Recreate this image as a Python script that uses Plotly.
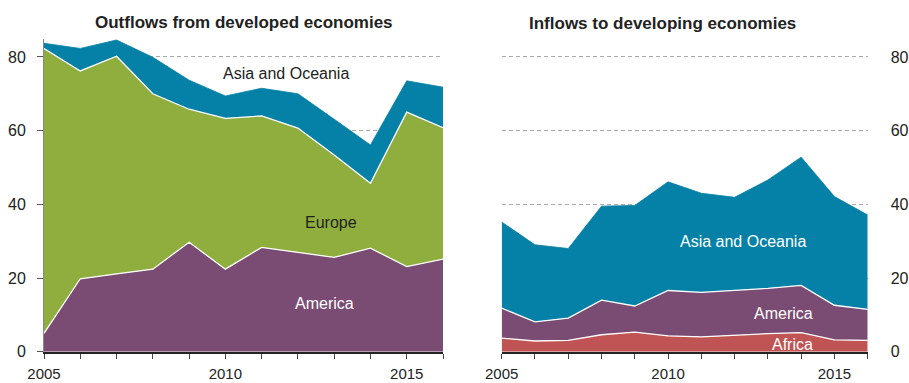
import plotly.graph_objects as go

# Years on the horizontal axis
years = list(range(2005, 2017))
x_tick_text = ["2005", "", "", "", "", "2010", "", "", "", "", "2015", ""]
y_tick_vals = [0, 20, 40, 60, 80]

# Outflows from developed economies, by destination (stacked)
out_america = [5.0, 19.8, 21.1, 22.4, 29.7, 22.4, 28.3, 27.0, 25.6, 28.1, 23.1, 25.1]
out_europe = [77.3, 56.4, 59.1, 47.6, 36.1, 40.9, 35.7, 33.7, 27.8, 17.6, 41.9, 35.7]
out_asia = [1.4, 6.1, 4.4, 9.9, 7.9, 6.1, 7.5, 9.3, 9.7, 10.4, 8.5, 11.0]

# Inflows to developing economies, by region (stacked)
in_africa = [3.7, 2.9, 3.1, 4.6, 5.3, 4.3, 4.0, 4.5, 4.9, 5.2, 3.2, 3.1]
in_america = [8.1, 5.2, 6.0, 9.4, 7.1, 12.3, 12.1, 12.1, 12.3, 12.8, 9.4, 8.4]
in_asia = [23.4, 20.9, 18.9, 25.5, 27.3, 29.5, 26.9, 25.3, 29.4, 34.8, 29.5, 25.6]

GREEN = "#8fae3e"
BLUE = "#0580a6"
PURPLE = "#7b4c73"
RED = "#c05353"
TEXT = "#222222"
FONT = "Liberation Sans"

fig = go.Figure()


def add_area(values, color, group, xa, ya, top=False):
    fig.add_trace(go.Scatter(
        x=years, y=values, mode="lines", stackgroup=group,
        fillcolor=color,
        line=dict(color=color if top else "white", width=0.8 if top else 1.3),
        xaxis=xa, yaxis=ya, hoverinfo="skip", showlegend=False,
    ))


add_area(out_america, PURPLE, "out", "x", "y")
add_area(out_europe, GREEN, "out", "x", "y")
add_area(out_asia, BLUE, "out", "x", "y", top=True)

add_area(in_africa, RED, "in", "x2", "y2")
add_area(in_america, PURPLE, "in", "x2", "y2")
add_area(in_asia, BLUE, "in", "x2", "y2", top=True)

tick_font = dict(family=FONT, size=16, color=TEXT)
x_tick_font = dict(family=FONT, size=15, color=TEXT)

xaxis_common = dict(
    range=[2005, 2016], tickvals=years, ticktext=x_tick_text,
    showgrid=False, zeroline=False, showline=True, linecolor="#222222",
    linewidth=1.6, ticks="outside", ticklen=5, tickcolor="#444444",
    tickwidth=1, tickfont=x_tick_font, ticklabelstandoff=2, automargin=False,
)
yaxis_common = dict(
    range=[0, 85], tickvals=y_tick_vals, showgrid=True, gridcolor="#aaaaaa",
    gridwidth=1, griddash="4px,3px", zeroline=False, tickfont=tick_font,
    automargin=False,
)

fig.update_layout(
    width=909, height=383,
    margin=dict(l=0, r=0, t=0, b=0, autoexpand=False),
    paper_bgcolor="white", plot_bgcolor="white",
    xaxis=dict(domain=[44 / 909, 443 / 909], anchor="y", **xaxis_common),
    xaxis2=dict(domain=[501.7 / 909, 867.7 / 909], anchor="y2", **xaxis_common),
    yaxis=dict(domain=[31.3 / 383, 344.5 / 383], anchor="x",
               showline=True, linecolor="#888888", linewidth=1,
               ticks="outside", ticklen=6, tickcolor="#555555",
               ticklabelstandoff=8, **yaxis_common),
    yaxis2=dict(domain=[31.3 / 383, 344.5 / 383], anchor="x2", side="right",
                showline=False, ticks="", ticklabelstandoff=22, **yaxis_common),
)

# Panel titles
title_font = dict(family=FONT, size=17, color=TEXT, weight="bold")
fig.add_annotation(text="Outflows from developed economies", x=244.5 / 909, y=1 - 22.5 / 383,
                   xref="paper", yref="paper", showarrow=False, font=title_font,
                   xanchor="center", yanchor="middle")
fig.add_annotation(text="Inflows to developing economies", x=662.7 / 909, y=1 - 23.3 / 383,
                   xref="paper", yref="paper", showarrow=False, font=title_font,
                   xanchor="center", yanchor="middle")

# Area labels
labels = [
    ("Asia and Oceania", 2011.67, 75.4, TEXT, "x", "y"),
    ("Europe", 2012.91, 35.2, TEXT, "x", "y"),
    ("America", 2012.72, 13.2, "white", "x", "y"),
    ("Asia and Oceania", 2012.25, 29.85, "white", "x2", "y2"),
    ("America", 2013.46, 10.5, "white", "x2", "y2"),
    ("Africa", 2013.73, 1.9, "white", "x2", "y2"),
]
for text, lx, ly, color, xr, yr in labels:
    fig.add_annotation(text=text, x=lx, y=ly, xref=xr, yref=yr, showarrow=False,
                       font=dict(family=FONT, size=16, color=color),
                       xanchor="center", yanchor="middle")

fig.write_html("out.html")
